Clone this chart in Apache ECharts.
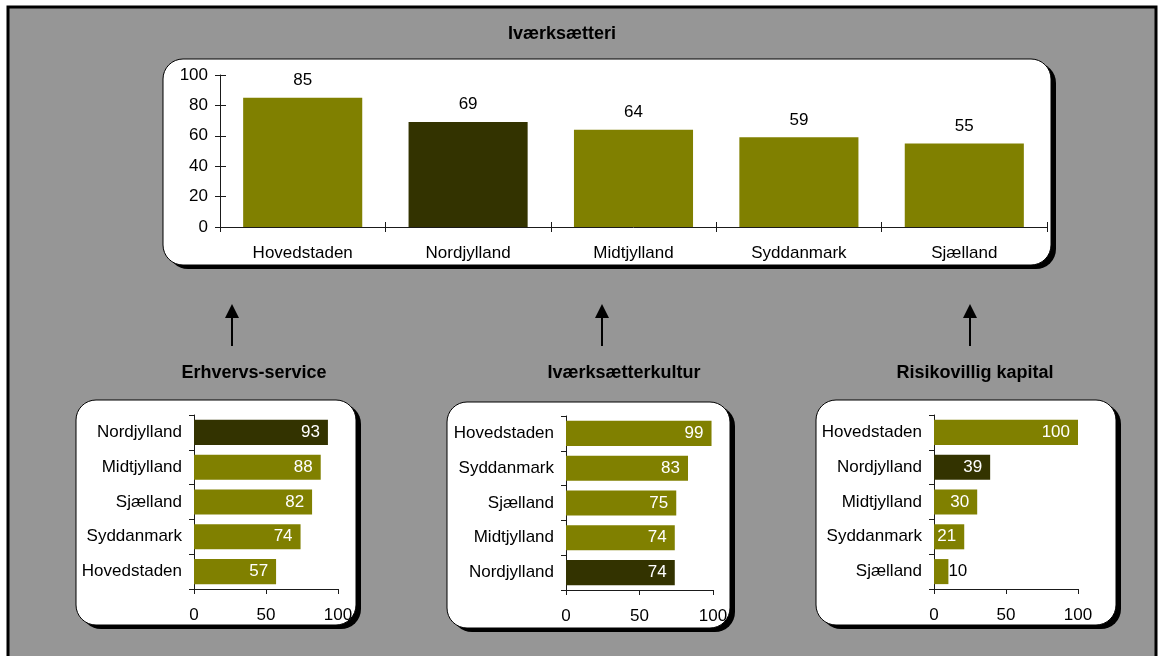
<!DOCTYPE html>
<html>
<head>
<meta charset="utf-8">
<title>Iværksætteri</title>
<script src="https://cdn.jsdelivr.net/npm/echarts@6/dist/echarts.min.js"></script>
<style>
  html, body { margin: 0; padding: 0; background: #ffffff; }
  #chart { width: 1163px; height: 656px; }
</style>
</head>
<body>
<div id="chart"></div>
<script>
// Regional scores: overall entrepreneurship index and its three components
const topCats = ['Hovedstaden', 'Nordjylland', 'Midtjylland', 'Syddanmark', 'Sjælland'];
const topVals = [85, 69, 64, 59, 55];

const serviceCats = ['Nordjylland', 'Midtjylland', 'Sjælland', 'Syddanmark', 'Hovedstaden'];
const serviceVals = [93, 88, 82, 74, 57];

const kulturCats = ['Hovedstaden', 'Syddanmark', 'Sjælland', 'Midtjylland', 'Nordjylland'];
const kulturVals = [99, 83, 75, 74, 74];

const kapitalCats = ['Hovedstaden', 'Nordjylland', 'Midtjylland', 'Syddanmark', 'Sjælland'];
const kapitalVals = [100, 39, 30, 21, 10];

const topTickStep = 20;
const smallTickStep = 50;

const OLIVE = '#808000';
const DARK = '#333300';
const HIGHLIGHT = 'Nordjylland';
const FONT = '"Liberation Sans", Arial, sans-serif';
const AXIS_COLOR = '#1a1a1a';
const LABEL_SIZE = 17;

function colored(cats, vals) {
  return vals.map((v, i) => ({
    value: v,
    itemStyle: { color: cats[i] === HIGHLIGHT ? DARK : OLIVE }
  }));
}

// small horizontal bar charts
const smallGrids = [
  { left: 194, top: 415, width: 144, height: 174 },
  { left: 566, top: 416, width: 147, height: 174 },
  { left: 934, top: 415, width: 144, height: 174 }
];
const smallSets = [
  [serviceCats, serviceVals],
  [kulturCats, kulturVals],
  [kapitalCats, kapitalVals]
];

const grid = [{ left: 220, top: 75, width: 827, height: 152 }].concat(smallGrids);

const xAxis = [
  // top category axis, outward ticks with labels
  {
    type: 'category', gridIndex: 0, data: topCats,
    axisLine: { lineStyle: { color: AXIS_COLOR } },
    axisTick: { show: true, length: 5, lineStyle: { color: AXIS_COLOR } },
    axisLabel: { color: '#000', fontFamily: FONT, fontSize: LABEL_SIZE, margin: 18 }
  },
  // companion axis giving the inward half of the crossing ticks
  {
    type: 'category', gridIndex: 0, data: topCats, position: 'bottom',
    axisLine: { show: false },
    axisTick: { show: true, inside: true, length: 5, lineStyle: { color: AXIS_COLOR } },
    axisLabel: { show: false }
  }
];
const yAxis = [
  {
    type: 'value', gridIndex: 0, min: 0, max: 100, interval: topTickStep,
    axisLine: { show: true, lineStyle: { color: AXIS_COLOR } },
    axisTick: { show: true, length: 5, lineStyle: { color: AXIS_COLOR } },
    splitLine: { show: false },
    axisLabel: { color: '#000', fontFamily: FONT, fontSize: LABEL_SIZE, margin: 12 }
  },
  {
    type: 'value', gridIndex: 0, min: 0, max: 100, interval: topTickStep, position: 'left',
    axisLine: { show: false },
    axisTick: { show: true, inside: true, length: 6, lineStyle: { color: AXIS_COLOR } },
    splitLine: { show: false },
    axisLabel: { show: false }
  }
];

const series = [
  {
    type: 'bar', xAxisIndex: 0, yAxisIndex: 0,
    data: colored(topCats, topVals),
    barCategoryGap: '28%',
    label: {
      show: true, position: 'top', distance: 9,
      color: '#000', fontFamily: FONT, fontSize: LABEL_SIZE
    }
  }
];

smallSets.forEach(([cats, vals], k) => {
  const g = k + 1;
  xAxis.push({
    type: 'value', gridIndex: g, min: 0, max: 100, interval: smallTickStep,
    axisLine: { show: true, lineStyle: { color: AXIS_COLOR } },
    axisTick: { show: true, length: 5, lineStyle: { color: AXIS_COLOR } },
    splitLine: { show: false },
    axisLabel: { color: '#000', fontFamily: FONT, fontSize: LABEL_SIZE, margin: 18 }
  });
  yAxis.push({
    type: 'category', gridIndex: g, data: cats, inverse: true,
    axisLine: { show: true, lineStyle: { color: AXIS_COLOR } },
    axisTick: { show: true, length: 5, lineStyle: { color: AXIS_COLOR } },
    axisLabel: { color: '#000', fontFamily: FONT, fontSize: LABEL_SIZE, margin: 12 }
  });
  series.push({
    type: 'bar', xAxisIndex: g + 1, yAxisIndex: g + 1,
    data: vals.map((v, i) => {
      const item = {
        value: v,
        itemStyle: { color: cats[i] === HIGHLIGHT ? DARK : OLIVE }
      };
      // too short to hold its own label: print it just past the bar end
      if (v < 15) {
        item.label = { position: 'right', distance: 0, color: '#000' };
      }
      return item;
    }),
    barCategoryGap: '28%',
    label: {
      show: true, position: 'insideRight', distance: 8,
      color: '#fff', fontFamily: FONT, fontSize: LABEL_SIZE
    }
  });
});

// rounded white panels with a hard black drop shadow
function panel(x, y, w, h) {
  return [
    { type: 'rect', z: -20, shape: { x: x + 5, y: y + 4, width: w, height: h, r: 20 },
      style: { fill: '#000' } },
    { type: 'rect', z: -19, shape: { x: x, y: y, width: w, height: h, r: 20 },
      style: { fill: '#fff', stroke: '#000', lineWidth: 1 } }
  ];
}
function arrow(x) {
  return [
    { type: 'line', z: -18, shape: { x1: x, y1: 346, x2: x, y2: 316 },
      style: { stroke: '#000', lineWidth: 2 } },
    { type: 'polygon', z: -18, shape: { points: [[x - 7, 318], [x + 7, 318], [x, 304]] },
      style: { fill: '#000' } }
  ];
}
function heading(text, cx, cy) {
  return {
    type: 'text', z: -18, x: cx, y: cy,
    style: {
      text: text, fill: '#000', font: 'bold 18px ' + FONT,
      textAlign: 'center', textVerticalAlign: 'middle'
    }
  };
}

const graphic = [
  { type: 'rect', z: -30, shape: { x: 8, y: 7, width: 1148, height: 680 },
    style: { fill: '#969696', stroke: '#000', lineWidth: 3 } }
]
  .concat(panel(163, 59, 888, 206))
  .concat(panel(76, 400, 280, 225))
  .concat(panel(447, 402, 283, 226))
  .concat(panel(816, 400, 300, 225))
  .concat(arrow(232), arrow(602), arrow(970))
  .concat([
    heading('Iværksætteri', 562, 34),
    heading('Erhvervs-service', 254, 373),
    heading('Iværksætterkultur', 624, 373),
    heading('Risikovillig kapital', 975, 373)
  ]);

const chart = echarts.init(document.getElementById('chart'), null, { renderer: 'canvas' });
chart.setOption({
  animation: false,
  backgroundColor: '#ffffff',
  textStyle: { fontFamily: FONT },
  graphic: graphic,
  grid: grid,
  xAxis: xAxis,
  yAxis: yAxis,
  series: series
});
</script>
</body>
</html>
